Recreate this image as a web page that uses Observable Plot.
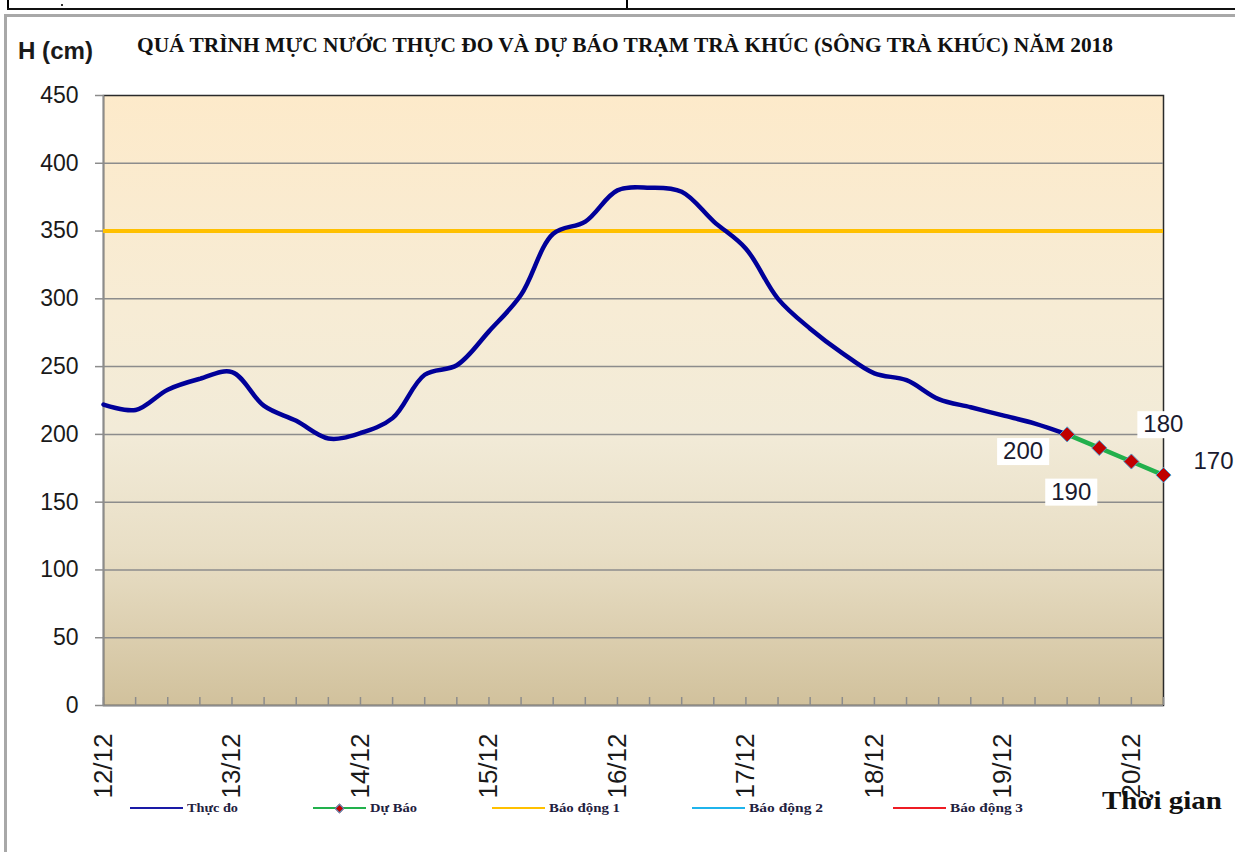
<!DOCTYPE html>
<html>
<head>
<meta charset="utf-8">
<script src="https://cdn.jsdelivr.net/npm/d3@7"></script>
<script src="https://cdn.jsdelivr.net/npm/@observablehq/plot@0.6"></script>
<style>
  body { margin: 0; background: #fff; }
  #wrap { position: relative; width: 1235px; height: 852px; overflow: hidden; background: #fff; }
  .abs { position: absolute; white-space: nowrap; line-height: 1; transform-origin: 0 0; }
  #chart { position: absolute; left: 0; top: 80px; }
  .serif { font-family: "Liberation Serif", "Times New Roman", serif; font-weight: bold; color: #111; }
  .sans { font-family: "Liberation Sans", Arial, sans-serif; }
</style>
</head>
<body>
<div id="wrap">
  <!-- table remnants above the chart -->
  <div class="abs" style="left:7px;top:0;width:1.5px;height:9px;background:#000"></div>
  <div class="abs" style="left:626px;top:0;width:1.5px;height:9px;background:#000"></div>
  <div class="abs" style="left:61px;top:4px;width:2px;height:2px;background:#333"></div>
  <div class="abs" style="left:7px;top:8px;width:1230px;height:2px;background:#111"></div>
  <!-- outer chart border -->
  <div class="abs" style="left:4px;top:14px;width:1240px;height:850px;border-left:3px solid #a8a8a8;border-top:3px solid #a8a8a8;box-sizing:border-box"></div>

  <div id="ylabel" class="abs sans" style="left:18px;top:40px;font-size:23px;font-weight:bold;color:#1a1a1a"></div>
  <div id="title" class="abs serif" style="left:137px;top:34px;font-size:22px"></div>
  <div id="chart"></div>
  <div id="legend"></div>
  <div id="xlabel" class="abs serif" style="left:1102px;top:788px;font-size:26px"></div>
</div>
<script>
// ---------------- data ----------------
const titleText = "QUÁ TRÌNH MỰC NƯỚC THỰC ĐO VÀ DỰ BÁO TRẠM TRÀ KHÚC (SÔNG TRÀ KHÚC) NĂM 2018";
const yAxisTitle = "H (cm)";
const xAxisTitle = "Thời gian";

// observed water level every 6 hours from 12/12 00h to 19/12 12h (cm)
const observedHours = [0,6,12,18,24,30,36,42,48,54,60,66,72,78,84,90,96,102,108,114,120,126,132,138,144,150,156,162,168,174,180];
const observedLevel = [222,218,233,241,246,221,210,197,201,212,244,251,276,303,348,357,380,382,379,357,337,300,278,260,245,240,226,220,214,208,200];

// forecast
const forecastHours = [180,186,192,198];
const forecastLevel = [200,190,180,170];

// alarm level 1
const alarm1 = 350;

// axes
const dayHours = [0,24,48,72,96,120,144,168,192];
const dayLabels = ["12/12","13/12","14/12","15/12","16/12","17/12","18/12","19/12","20/12"];
const tickHours = d3.range(0, 199, 6);
const yTicks = [0,50,100,150,200,250,300,350,400,450];

// legend
const legendLabels = ["Thực đo","Dự Báo","Báo động 1","Báo động 2","Báo động 3"];
const legendColors = ["#1a1aa6","#22b14c","#ffc000","#1fb4ec","#ee1c24"];

// ---------------- styles (not data) ----------------
const legendX = [130, 313, 492, 692, 893];
const legendTextW = [51, 47, 71, 74, 73];
const labelDx = [-44, -28, 32, 50];
const labelDy = [17, 44, -37, -14];

const obs = observedHours.map((h, i) => ({h, v: observedLevel[i]}));
const fc = forecastHours.map((h, i) => ({h, v: forecastLevel[i], i}));

const gridColor = "#8c8c8c";

const chart = Plot.plot({
  width: 1235,
  height: 772,
  marginTop: 15,
  marginLeft: 103,
  marginRight: 72,
  marginBottom: 147,
  style: {background: "transparent", fontFamily: "'Liberation Sans', Arial, sans-serif", overflow: "visible", color: "#1a1a1a"},
  x: {domain: [0, 198]},
  y: {domain: [0, 450]},
  marks: [
    Plot.frame({fill: "url(#bgGrad)", stroke: "#2a2a2a", strokeWidth: 1.5}),
    Plot.gridY(yTicks.filter(d => d > 0 && d < 450), {stroke: gridColor, strokeOpacity: 1, strokeWidth: 1.5}),
    Plot.ruleX([0], {stroke: gridColor, strokeWidth: 1.5}),
    Plot.ruleY([0], {stroke: gridColor, strokeWidth: 1.5}),
    Plot.axisY(yTicks, {tickSize: 8, tickPadding: 17, fontSize: 23, stroke: gridColor, strokeWidth: 1.5, fill: "#1a1a1a", label: null}),
    Plot.axisX(tickHours, {tickSize: -8, tickFormat: () => "", stroke: gridColor, strokeWidth: 1.5, label: null}),
    Plot.axisX(dayHours, {tickSize: 0, tickPadding: 28, tickRotate: -90, fontSize: 26, fill: "#1a1a1a",
      tickFormat: d => dayLabels[dayHours.indexOf(d)], label: null}),
    Plot.ruleY([alarm1], {stroke: "#ffc000", strokeWidth: 4}),
    Plot.line(obs, {x: "h", y: "v", stroke: "#000099", strokeWidth: 4.5, curve: "catmull-rom"}),
    Plot.line(fc, {x: "h", y: "v", stroke: "#22b04c", strokeWidth: 4.5}),
    Plot.dot(fc, {x: "h", y: "v", symbol: "diamond2", r: 6.8, fill: "#c00000", stroke: "#4f9fd0", strokeWidth: 1}),
    ...fc.map((d, k) => Plot.text([d], {x: "h", y: "v", text: e => String(e.v), dx: labelDx[k], dy: labelDy[k],
      fontSize: 24, fill: "#1a1a2e"}))
  ]
});

document.getElementById("chart").appendChild(chart);

// gradient for plot background
const ns = "http://www.w3.org/2000/svg";
const defs = document.createElementNS(ns, "defs");
defs.innerHTML = `<linearGradient id="bgGrad" x1="0" y1="0" x2="0" y2="1">
  <stop offset="0" stop-color="#fdeaca"/>
  <stop offset="0.35" stop-color="#f7ecd5"/>
  <stop offset="0.55" stop-color="#f2ebd8"/>
  <stop offset="0.75" stop-color="#e8dec5"/>
  <stop offset="1" stop-color="#d1c19c"/>
</linearGradient>`;
chart.insertBefore(defs, chart.firstChild);

// white boxes behind data labels
chart.querySelectorAll('g[aria-label="text"] text').forEach(t => {
  const b = t.getBBox();
  const r = document.createElementNS(ns, "rect");
  r.setAttribute("x", b.x - 6);
  r.setAttribute("y", b.y + 1);
  r.setAttribute("width", b.width + 12);
  r.setAttribute("height", b.height);
  r.setAttribute("fill", "#fff");
  if (t.getAttribute("transform")) r.setAttribute("transform", t.getAttribute("transform"));
  t.parentNode.insertBefore(r, t);
});

// texts
function fit(el, w) {
  const m = el.getBoundingClientRect().width;
  if (m > 0) el.style.transform = `scaleX(${w / m})`;
}
const title = document.getElementById("title");
title.textContent = titleText;
fit(title, 976);
const yl = document.getElementById("ylabel");
yl.textContent = yAxisTitle;
fit(yl, 75);
const xl = document.getElementById("xlabel");
xl.textContent = xAxisTitle;
fit(xl, 120);

// legend
const legend = document.getElementById("legend");
legendLabels.forEach((lab, i) => {
  const x = legendX[i];
  const line = document.createElement("div");
  line.className = "abs";
  line.style.cssText = `left:${x}px;top:807px;width:53px;height:2px;background:${legendColors[i]}`;
  legend.appendChild(line);
  if (i === 1) {
    const dm = document.createElement("div");
    dm.className = "abs";
    dm.style.cssText = `left:${x + 23}px;top:805px;width:5px;height:5px;background:#c00000;border:1px solid #4f9fd0;transform:rotate(45deg);transform-origin:50% 50%`;
    legend.appendChild(dm);
  }
  const tx = document.createElement("div");
  tx.className = "abs serif";
  tx.style.cssText = `left:${x + 57}px;top:801px;font-size:13px;color:#1f2140`;
  tx.textContent = lab;
  legend.appendChild(tx);
  fit(tx, legendTextW[i]);
});
</script>
</body>
</html>
